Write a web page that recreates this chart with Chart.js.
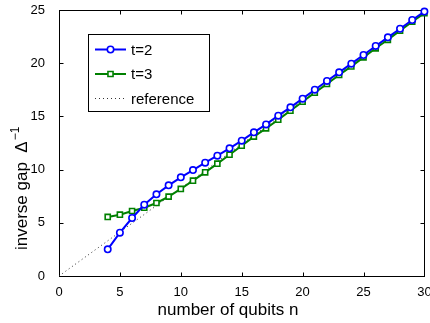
<!DOCTYPE html>
<html>
<head>
<meta charset="utf-8">
<script src="https://cdn.jsdelivr.net/npm/chart.js@4"></script>
<style>
  html, body { margin: 0; padding: 0; background: #fff; }
  #wrap { width: 430px; height: 323px; position: relative; }
</style>
</head>
<body>
<div id="wrap"><canvas id="gapChart"></canvas></div>
<script>
// values
const qubits = [4, 5, 6, 7, 8, 9, 10, 11, 12, 13, 14, 15, 16, 17, 18, 19, 20, 21, 22, 23, 24, 25, 26, 27, 28, 29, 30];
const gapT2 = [2.51, 4.07, 5.45, 6.70, 7.68, 8.52, 9.27, 9.96, 10.65, 11.31, 12.0, 12.72, 13.5, 14.25, 15.07, 15.85,
  16.67, 17.51, 18.33, 19.14, 19.96, 20.77, 21.62, 22.43, 23.24, 24.06, 24.85];
const gapT3 = [5.55, 5.76, 6.11, 6.42, 6.86, 7.46, 8.18, 8.96, 9.74, 10.56, 11.4, 12.25, 13.1, 13.88, 14.69, 15.54,
  16.38, 17.23, 18.05, 18.89, 19.7, 20.55, 21.4, 22.2, 23.06, 23.9, 24.7];
const refN = [0, 30];
const refGap = [0, 24.8];
const seriesLabels = ["t=2", "t=3", "reference"];
const xLabel = "number of qubits n";
const yLabel = "inverse gap  Δ";
const yLabelSup = "−1";

const FONT = "'Liberation Sans', Arial, Helvetica, sans-serif";
const pts = (xs, ys) => xs.map((x, i) => ({ x, y: ys[i] }));

// MATLAB-style box with inward ticks on all four sides
const framePlugin = {
  id: "frame",
  beforeDatasetsDraw(chart) {
    const { ctx, chartArea: a, scales } = chart;
    ctx.save();
    ctx.strokeStyle = "#000";
    ctx.lineWidth = 1;
    const L = Math.round(a.left) + 0.5, R = Math.round(a.right) + 0.5;
    const T = Math.round(a.top) + 0.5, B = Math.round(a.bottom) + 0.5;
    ctx.strokeRect(L, T, R - L, B - T);
    const tl = 4;
    ctx.beginPath();
    scales.x.ticks.forEach((t) => {
      const px = Math.round(scales.x.getPixelForValue(t.value)) + 0.5;
      ctx.moveTo(px, B); ctx.lineTo(px, B - tl);
      ctx.moveTo(px, T); ctx.lineTo(px, T + tl);
    });
    scales.y.ticks.forEach((t) => {
      const py = Math.round(scales.y.getPixelForValue(t.value)) + 0.5;
      ctx.moveTo(L, py); ctx.lineTo(L + tl, py);
      ctx.moveTo(R, py); ctx.lineTo(R - tl, py);
    });
    ctx.stroke();
    ctx.restore();
  },
};

// axis titles (y one has a superscript) and the boxed legend
const textPlugin = {
  id: "texts",
  afterDraw(chart) {
    const ctx = chart.ctx;
    ctx.save();
    ctx.fillStyle = "#000";
    ctx.font = "17px " + FONT;
    ctx.textAlign = "center";
    ctx.textBaseline = "alphabetic";
    ctx.fillText(xLabel, 228, 315);

    ctx.translate(27, 250);
    ctx.rotate(-Math.PI / 2);
    ctx.textAlign = "left";
    ctx.fillText(yLabel, 0, 0);
    const w = ctx.measureText(yLabel).width;
    ctx.font = "12px " + FONT;
    ctx.fillText(yLabelSup, w + 1, -8);
    ctx.restore();

    // legend
    ctx.save();
    const x0 = 88, y0 = 34, bw = 121, bh = 77;
    ctx.fillStyle = "#fff";
    ctx.fillRect(x0, y0, bw, bh);
    ctx.strokeStyle = "#000";
    ctx.lineWidth = 1;
    ctx.strokeRect(x0 + 0.5, y0 + 0.5, bw, bh);
    chart.data.datasets.forEach((ds, i) => {
      const y = 49.5 + i * 24.5;
      ctx.strokeStyle = ds.borderColor;
      ctx.lineWidth = ds.borderWidth;
      ctx.setLineDash(ds.borderDash || []);
      ctx.beginPath();
      ctx.moveTo(95, y); ctx.lineTo(126, y);
      ctx.stroke();
      ctx.setLineDash([]);
      if (ds.pointRadius > 0) {
        ctx.fillStyle = "#fff";
        ctx.strokeStyle = ds.pointBorderColor;
        ctx.lineWidth = ds.pointBorderWidth;
        ctx.beginPath();
        if (ds.pointStyle === "rect") {
          const s = ds.pointRadius * Math.SQRT1_2;
          ctx.rect(110.5 - s, y - s, 2 * s, 2 * s);
        } else {
          ctx.arc(110.5, y, ds.pointRadius, 0, Math.PI * 2);
        }
        ctx.fill(); ctx.stroke();
      }
      ctx.fillStyle = "#000";
      ctx.font = "15px " + FONT;
      ctx.textAlign = "left";
      ctx.textBaseline = "middle";
      ctx.fillText(ds.label, 131, y + 1);
    });
    ctx.restore();
  },
};

new Chart(document.getElementById("gapChart"), {
  type: "line",
  data: {
    datasets: [
      {
        label: seriesLabels[0], data: pts(qubits, gapT2),
        borderColor: "#0000ff", borderWidth: 2,
        pointStyle: "circle", pointRadius: 3.2, pointBorderWidth: 1.6,
        pointBorderColor: "#0000ff", pointBackgroundColor: "#fff",
        clip: false, order: 1,
      },
      {
        label: seriesLabels[1], data: pts(qubits, gapT3),
        borderColor: "#008000", borderWidth: 2,
        pointStyle: "rect", pointRadius: 3.6, pointBorderWidth: 1.6,
        pointBorderColor: "#008000", pointBackgroundColor: "#fff",
        clip: false, order: 2,
      },
      {
        label: seriesLabels[2], data: pts(refN, refGap),
        borderColor: "#333", borderWidth: 1, borderDash: [1, 3],
        pointRadius: 0, pointBorderWidth: 0, order: 3,
      },
    ],
  },
  plugins: [framePlugin, textPlugin],
  options: {
    responsive: true, maintainAspectRatio: false, animation: false,
    layout: { padding: { left: 0, right: 5, top: 10, bottom: 0 } },
    plugins: { legend: { display: false }, tooltip: { enabled: false } },
    scales: {
      x: {
        type: "linear", min: 0, max: 30,
        grid: { display: false }, border: { display: false },
        ticks: { stepSize: 5, padding: 1, color: "#000", font: { family: FONT, size: 13 }, maxRotation: 0 },
        afterFit(s) { s.height = 47; s.paddingLeft = 0; s.paddingRight = 0; },
      },
      y: {
        min: 0, max: 25,
        grid: { display: false }, border: { display: false },
        ticks: { stepSize: 5, padding: 6, color: "#000", font: { family: FONT, size: 13 } },
        afterFit(s) { s.width = 59; s.paddingTop = 0; s.paddingBottom = 0; },
      },
    },
  },
});
</script>
</body>
</html>
